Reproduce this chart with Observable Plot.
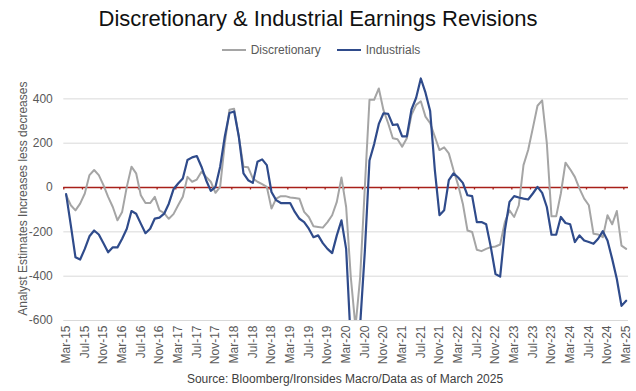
<!DOCTYPE html>
<html>
<head>
<meta charset="utf-8">
<script src="https://cdn.jsdelivr.net/npm/d3@7"></script>
<script src="https://cdn.jsdelivr.net/npm/@observablehq/plot@0.6"></script>
<style>
  body { margin: 0; background: #fff; font-family: "Liberation Sans", Arial, sans-serif; }
  #wrap { width: 636px; height: 391px; position: relative; overflow: hidden; }
  #title { height: 38px; line-height: 38px; text-align: center; font-size: 22px; color: #111; }
  #legend { height: 24px; display: flex; justify-content: center; align-items: center; gap: 16px; font-size: 12px; color: #595959; padding-left: 6px; }
  .item { display: flex; align-items: center; gap: 5px; }
  .sw { width: 24px; height: 2px; display: inline-block; }
  #caption { height: 23px; line-height: 23px; font-size: 12px; color: #404040; padding-left: 54px; text-align: center; }
  svg { display: block; }
</style>
</head>
<body>
<div id="wrap">
  <div id="title">Discretionary &amp; Industrial Earnings Revisions</div>
  <div id="legend"></div>
  <div id="chart"></div>
  <div id="caption">Source: Bloomberg/Ironsides Macro/Data as of March 2025</div>
</div>
<script>
const seriesNames = ["Discretionary", "Industrials"];
const seriesColors = ["#a5a5a5", "#2f4b8b"];

const tickLabels = ["Mar-15","Jul-15","Nov-15","Mar-16","Jul-16","Nov-16","Mar-17","Jul-17","Nov-17",
  "Mar-18","Jul-18","Nov-18","Mar-19","Jul-19","Nov-19","Mar-20","Jul-20","Nov-20","Mar-21","Jul-21",
  "Nov-21","Mar-22","Jul-22","Nov-22","Mar-23","Jul-23","Nov-23","Mar-24","Jul-24","Nov-24","Mar-25"];

// monthly values, Mar-15 .. Mar-25
const discretionary = [
  -35,-80,-103,-73,-27,56,79,56,11,-42,
  -88,-148,-110,3,94,64,-35,-70,-70,-42,
  -103,-115,-141,-120,-80,-42,48,26,36,71,
  48,26,-24,3,200,351,355,230,94,91,
  41,26,15,3,-95,-50,-39,-39,-45,-47,
  -51,-110,-133,-175,-178,-181,-156,-125,-65,45,
  -88,-405,-630,-405,0,396,396,447,349,290,
  222,218,184,222,328,373,389,320,290,230,
  169,181,154,79,11,-73,-194,-201,-281,-287,
  -277,-269,-266,-257,-156,-103,-133,-80,101,169,
  268,369,393,200,-130,-130,-27,112,82,48,
  -5,-50,-80,-209,-212,-224,-125,-166,-106,-262,
  -277
];
const industrials = [
  -30,-170,-315,-325,-277,-220,-194,-212,-251,-292,
  -270,-270,-231,-186,-106,-118,-163,-206,-186,-140,
  -136,-118,-73,-8,18,41,124,136,142,94,
  33,-15,3,94,230,336,343,230,64,33,
  21,116,127,101,-20,-57,-70,-70,-70,-110,
  -141,-156,-186,-224,-216,-251,-277,-296,-216,-148,
  -277,-700,-750,-620,-290,122,196,287,335,332,
  282,285,231,231,352,405,492,428,345,80,
  -125,-103,33,64,45,21,-35,-39,-156,-156,
  -166,-269,-390,-402,-194,-65,-39,-45,-50,-54,
  -27,3,-24,-88,-213,-213,-133,-160,-166,-246,
  -216,-239,-246,-254,-231,-197,-239,-322,-413,-534,
  -511
];
const yTicks = [-600, -400, -200, 0, 200, 400];
const yLabel = "Analyst Estimates Increases less decreases";

const tickIdx = tickLabels.map((_, k) => k * 4);
const boundaryIdx = tickLabels.map((_, k) => k * 4 - 0.5);
const rows = [];
[discretionary, industrials].forEach((arr, s) => arr.forEach((v, i) => rows.push({i, v, s: seriesNames[s]})));

const red = "#a8201a";

const legend = document.getElementById("legend");
seriesNames.forEach((n, k) => {
  const d = document.createElement("div");
  d.className = "item";
  d.innerHTML = `<span class="sw" style="background:${seriesColors[k]}"></span><span>${n}</span>`;
  legend.appendChild(d);
});

const chart = Plot.plot({
  width: 636,
  height: 306,
  marginLeft: 63.3,
  marginRight: 8,
  marginTop: 14.2,
  marginBottom: 48,
  style: {fontFamily: '"Liberation Sans", Arial, sans-serif', fontSize: "12px", color: "#595959", background: "transparent"},
  x: {type: "linear", domain: [-0.5, 120.5], ticks: tickIdx, tickFormat: i => tickLabels[i / 4], tickRotate: -90, tickSize: 0, tickPadding: 5, label: null},
  y: {domain: [-600, 500], ticks: yTicks, tickFormat: d => String(d), tickSize: 0, tickPadding: 11, label: yLabel, labelAnchor: "center", labelArrow: "none", labelOffset: 45},
  color: {domain: seriesNames, range: seriesColors},
  marks: [
    Plot.ruleY(yTicks.filter(d => d !== 0), {stroke: "#d9d9d9", strokeWidth: 1}),
    Plot.ruleY([0], {stroke: red, strokeWidth: 1.3}),
    Plot.ruleX(boundaryIdx, {y1: 0, y2: -11, stroke: red, strokeWidth: 1.3}),
    Plot.line(rows.filter(r => r.s === "Discretionary"), {x: "i", y: "v", stroke: "s", strokeWidth: 2, clip: true}),
    Plot.line(rows.filter(r => r.s === "Industrials"), {x: "i", y: "v", stroke: "s", strokeWidth: 2.2, clip: true})
  ]
});
document.getElementById("chart").appendChild(chart);
</script>
</body>
</html>
